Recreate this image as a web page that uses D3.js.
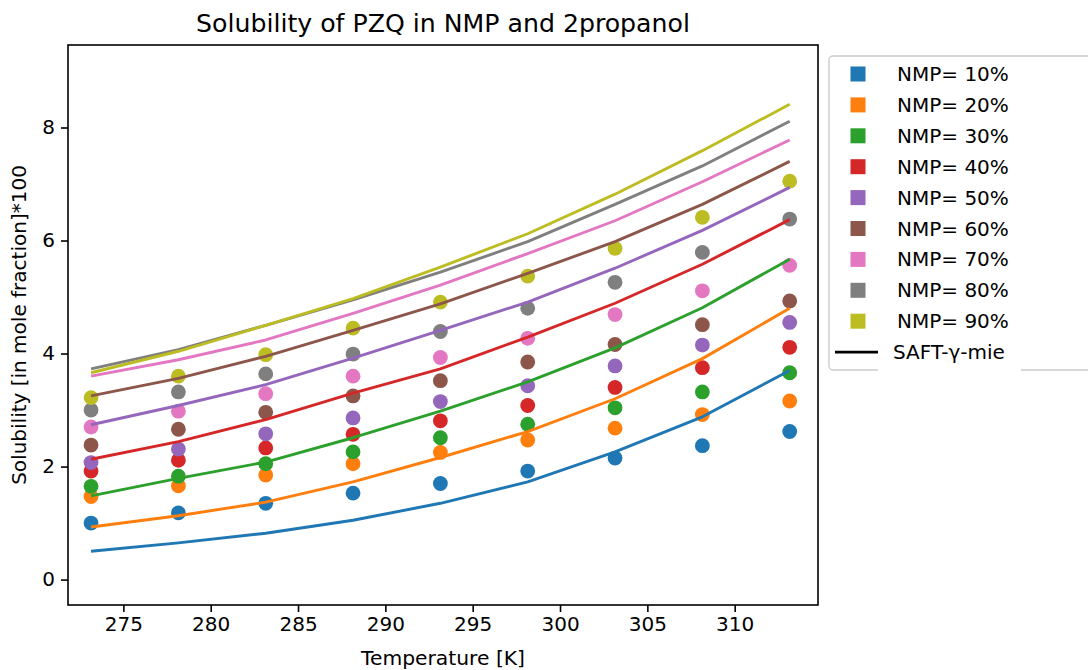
<!DOCTYPE html>
<html>
<head>
<meta charset="utf-8">
<script src="https://cdn.jsdelivr.net/npm/d3@7"></script>
<style>
  body { margin: 0; background: #fff; }
  svg { display: block; font-family: "DejaVu Sans", sans-serif; }
</style>
</head>
<body>
<div id="chart"></div>
<script>
// Temperatures [K] of the measurements
var temperatures = [273.15, 278.15, 283.15, 288.15, 293.15, 298.15, 303.15, 308.15, 313.15];

// NMP share of the solvent, one series per level
var nmpLevels = [10, 20, 30, 40, 50, 60, 70, 80, 90];

var measured = [
    [1.00, 1.18, 1.35, 1.53, 1.70, 1.92, 2.15, 2.37, 2.62],
    [1.47, 1.66, 1.85, 2.05, 2.25, 2.47, 2.68, 2.92, 3.16],
    [1.65, 1.83, 2.05, 2.26, 2.51, 2.75, 3.04, 3.32, 3.66],
    [1.92, 2.11, 2.33, 2.57, 2.81, 3.08, 3.40, 3.75, 4.11],
    [2.07, 2.31, 2.58, 2.86, 3.15, 3.43, 3.78, 4.15, 4.55],
    [2.38, 2.66, 2.96, 3.25, 3.52, 3.85, 4.16, 4.51, 4.93],
    [2.70, 2.98, 3.29, 3.60, 3.93, 4.27, 4.69, 5.11, 5.56],
    [3.00, 3.32, 3.64, 3.99, 4.39, 4.80, 5.26, 5.79, 6.38],
    [3.22, 3.60, 3.98, 4.45, 4.91, 5.37, 5.86, 6.41, 7.05]
];

// SAFT-gamma-mie predictions at the same temperatures
var saft = [
    [0.50, 0.65, 0.82, 1.05, 1.35, 1.73, 2.26, 2.88, 3.70],
    [0.93, 1.13, 1.37, 1.73, 2.16, 2.62, 3.20, 3.91, 4.80],
    [1.48, 1.79, 2.08, 2.51, 2.98, 3.50, 4.10, 4.81, 5.67],
    [2.13, 2.44, 2.83, 3.30, 3.73, 4.29, 4.89, 5.58, 6.37],
    [2.74, 3.08, 3.45, 3.92, 4.41, 4.91, 5.51, 6.18, 6.94],
    [3.25, 3.56, 3.95, 4.41, 4.88, 5.42, 5.98, 6.64, 7.40],
    [3.60, 3.89, 4.24, 4.71, 5.21, 5.77, 6.35, 7.04, 7.78],
    [3.73, 4.07, 4.50, 4.95, 5.44, 5.98, 6.64, 7.32, 8.11],
    [3.66, 4.04, 4.50, 4.97, 5.53, 6.12, 6.82, 7.59, 8.41]
];

var xTicks = [275, 280, 285, 290, 295, 300, 305, 310];
var yTicks = [0, 2, 4, 6, 8];

var width = 1088, height = 670;
var margin = { left: 68, right: 270, top: 45, bottom: 65 };
var colors = d3.schemeCategory10;

var svg = d3.select('#chart').append('svg')
    .attr('width', width)
    .attr('height', height);

var x = d3.scaleLinear().domain([271.83, 314.77]).range([margin.left, width - margin.right]);
var y = d3.scaleLinear().domain([-0.45, 9.46]).range([height - margin.bottom, margin.top]);

var plot = svg.append('g');

// Dots first (matplotlib draws collections under lines)
measured.forEach(function(series, i) {
    plot.selectAll('.dot' + i)
        .data(series)
        .enter()
        .append('circle')
        .attr('class', 'dot' + i)
        .attr('cx', function(d, j) { return x(temperatures[j]); })
        .attr('cy', function(d) { return y(d); })
        .attr('r', 7.4)
        .attr('fill', colors[i]);
});

var line = d3.line()
    .x(function(d, j) { return x(temperatures[j]); })
    .y(function(d) { return y(d); });

saft.forEach(function(series, i) {
    plot.append('path')
        .datum(series)
        .attr('d', line)
        .attr('fill', 'none')
        .attr('stroke', colors[i])
        .attr('stroke-width', 2.9)
        .attr('stroke-linejoin', 'round');
});

// Axes
var xAxis = svg.append('g')
    .attr('transform', 'translate(0,' + (height - margin.bottom) + ')')
    .call(d3.axisBottom(x).tickValues(xTicks).tickSize(7).tickPadding(5));
var yAxis = svg.append('g')
    .attr('transform', 'translate(' + margin.left + ',0)')
    .call(d3.axisLeft(y).tickValues(yTicks).tickSize(7).tickPadding(6));

[xAxis, yAxis].forEach(function(ax) {
    ax.select('.domain').remove();
    ax.selectAll('.tick line').attr('stroke', '#000').attr('stroke-width', 1.6);
    ax.selectAll('.tick text')
        .attr('fill', '#000')
        .style('font-size', '20px')
        .style('font-family', '"DejaVu Sans", sans-serif');
});

// Frame
svg.append('rect')
    .attr('x', margin.left)
    .attr('y', margin.top)
    .attr('width', width - margin.left - margin.right)
    .attr('height', height - margin.top - margin.bottom)
    .attr('fill', 'none')
    .attr('stroke', '#000')
    .attr('stroke-width', 1.6);

// Title and axis labels
svg.append('text')
    .attr('x', (margin.left + width - margin.right) / 2)
    .attr('y', 32)
    .attr('text-anchor', 'middle')
    .style('font-size', '25.2px')
    .text('Solubility of PZQ in NMP and 2propanol');

svg.append('text')
    .attr('x', (margin.left + width - margin.right) / 2)
    .attr('y', 665)
    .attr('text-anchor', 'middle')
    .style('font-size', '20.3px')
    .text('Temperature [K]');

svg.append('text')
    .attr('transform', 'translate(26,' + ((margin.top + height - margin.bottom) / 2) + ') rotate(-90)')
    .attr('text-anchor', 'middle')
    .style('font-size', '20px')
    .text('Solubility [in mole fraction]*100');

// Legend
var legend = svg.append('g').attr('transform', 'translate(829,56)');
legend.append('rect')
    .attr('x', 0).attr('y', 0)
    .attr('width', 290).attr('height', 314)
    .attr('rx', 4)
    .attr('fill', '#fff')
    .attr('stroke', '#cccccc')
    .attr('stroke-width', 1.4);

var rowH = 30.9;
nmpLevels.forEach(function(lv, i) {
    var cy = 18 + i * rowH;
    legend.append('rect')
        .attr('x', 21.5).attr('y', cy - 7.5)
        .attr('width', 15).attr('height', 15)
        .attr('fill', colors[i]);
    legend.append('text')
        .attr('x', 68).attr('y', cy + 7)
        .style('font-size', '20px')
        .text('NMP= ' + lv + '%');
});

var saftY = 18 + 9 * rowH;
// white box behind the last label (it covers the frame, as in the original)
legend.append('rect')
    .attr('x', 49).attr('y', saftY - 16)
    .attr('width', 143).attr('height', 37)
    .attr('fill', '#fff');
legend.append('line')
    .attr('x1', 6).attr('x2', 49)
    .attr('y1', saftY).attr('y2', saftY)
    .attr('stroke', '#000')
    .attr('stroke-width', 2.9);
legend.append('text')
    .attr('x', 64).attr('y', saftY + 7)
    .style('font-size', '20px')
    .text('SAFT-\u03b3-mie');
</script>
</body>
</html>
